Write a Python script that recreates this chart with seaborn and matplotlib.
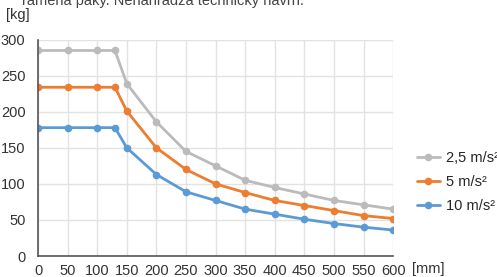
import numpy as np
import pandas as pd
import matplotlib
matplotlib.use("Agg")
import matplotlib.pyplot as plt
import seaborn as sns

# arm length [mm]
arm_mm = [0, 50, 100, 130, 150, 200, 250, 300, 350, 400, 450, 500, 550, 600]

# load [kg] per acceleration
load_25 = [285, 285, 285, 285, 239, 186, 145, 125, 105, 95, 86, 77, 71, 65]
load_5 = [234, 234, 234, 234, 201, 150, 120, 100, 88, 77, 70, 63, 56, 52]
load_10 = [178, 178, 178, 178, 150, 113, 89, 77, 65, 58, 51, 45, 40, 36]

series_names = ["2,5 m/s²", "5 m/s²", "10 m/s²"]
series_colors = ["#BBBBBB", "#ED7D31", "#5B9BD5"]

x_ticks = list(range(0, 601, 50))
y_ticks = list(range(0, 301, 50))

df = pd.DataFrame({
    "arm": arm_mm * 3,
    "load": load_25 + load_5 + load_10,
    "series": [series_names[0]] * len(arm_mm)
              + [series_names[1]] * len(arm_mm)
              + [series_names[2]] * len(arm_mm),
})

sns.set_style("white")
plt.rcParams["font.family"] = ["Liberation Sans", "DejaVu Sans"]

fs = 10.5
fig = plt.figure(figsize=(4.97, 2.77), dpi=100)
ax = fig.add_axes([0.0765, 0.0758, 0.7145, 0.781])

sns.lineplot(data=df, x="arm", y="load", hue="series", hue_order=series_names,
             palette=series_colors, marker="o", markersize=5.5,
             markeredgewidth=0, linewidth=2, ax=ax)

ax.set_xlim(0, 600)
ax.set_ylim(0, 300)
ax.set_xticks(x_ticks)
ax.set_yticks(y_ticks)
ax.tick_params(axis="both", length=0, labelsize=fs, colors="#333333")
ax.tick_params(axis="y", pad=9)
ax.tick_params(axis="x", pad=6)
ax.grid(True, color="#E2E2E2", linewidth=1)
ax.set_axisbelow(True)
for side in ["top", "right"]:
    ax.spines[side].set_visible(False)
for side in ["left", "bottom"]:
    ax.spines[side].set_color("#555555")
    ax.spines[side].set_linewidth(1.2)
ax.set_xlabel("")
ax.set_ylabel("")

# unit labels
fig.text(6 / 497, 1 - 15 / 277, "[kg]", fontsize=fs, color="#333333", va="center")
fig.text(412 / 497, 1 - 269 / 277, "[mm]", fontsize=fs, color="#333333", va="center")
# clipped caption line at the top
fig.text(22 / 497, 1 - 1 / 277, "ramena páky. Nenahrádza technický návrh.",
         fontsize=fs, color="#444444", va="center")

ax.legend(loc="center left", bbox_to_anchor=(1.05, 0.342), frameon=False,
          fontsize=fs, handlelength=1.6, handletextpad=0.4, labelspacing=0.7,
          borderaxespad=0)

fig.savefig("out.png", dpi=100)
